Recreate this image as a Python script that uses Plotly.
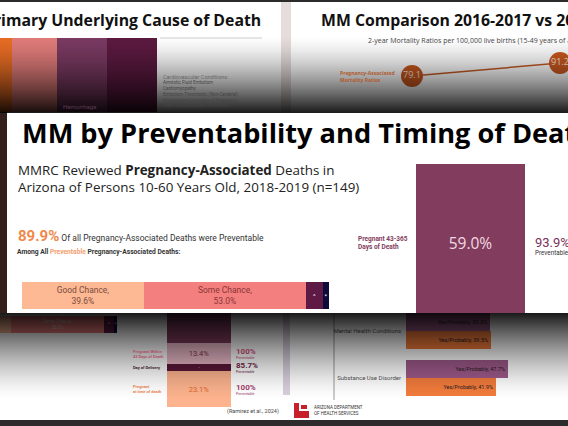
import plotly.graph_objects as go
import numpy as np

W, H = 568, 426
def X(px): return px / W
def Y(py): return 1 - py / H

FONT = "Open Sans"
SMALL = "Roboto"

# ---------------- data ----------------
chance_labels = ["Good Chance", "Some Chance", "Unable to Determine", "No Chance"]
chance_values = [39.6, 53.0, 5.5, 1.9]
chance_marks = ["", "", "^", "*"]
chance_colors = ["#fdb894", "#f47f7f", "#5e1a45", "#0e0b3a"]
chance_text_colors = ["#7a4c3c", "#8a3636", "#ffffff", "#ffffff"]

timing_labels = ["Pregnant<br>at time of death", "Day of Delivery",
                 "Pregnant Within<br>42 Days of Death", "Pregnant 43-365<br>Days of Death"]
timing_values = [23.1, 4.5, 13.4, 59.0]
timing_preventable = [100, 85.7, 100, 93.9]
timing_colors = ["#fcb38e", "#5a1838", "#eab9c8", "#823d5e"]
timing_text_colors = ["#e2632a", "#e8b0c0", "#8a3050", "#f3d9e3"]

conditions = ["Mental Health Conditions", "Substance Use Disorder"]
cond_pa = [39.3, 47.7]
cond_pr = [39.5, 41.9]

ratio_periods = ["2016-2017", "2018-2019"]
ratio_values = [79.1, 91.2]

cause_labels = ["Mental Health Conditions", "Injury", "Hemorrhage", "Cardiovascular Conditions"]
cause_values = [32.0, 14.5, 16.1, 16.1]
cause_colors = ["#e86d24", "#e07c7a", "#7a3a62", "#5c1a40"]

def bases(vals):
    return list(np.concatenate([[0], np.cumsum(vals)[:-1]]))

fig = go.Figure()

# main preventability stacked bar
fig.add_trace(go.Bar(
    orientation="h", y=["Preventable"] * len(chance_values), x=chance_values,
    base=bases(chance_values), marker=dict(color=chance_colors, line=dict(width=0)),
    text=[f"{l},<br>{v:.1f}%" if m == "" else m for l, v, m in zip(chance_labels, chance_values, chance_marks)],
    textposition="inside", insidetextanchor="middle",
    textfont=dict(family=SMALL, size=[8.5, 8.5, 6, 6], color=chance_text_colors),
    xaxis="x", yaxis="y", hoverinfo="skip"))

# main timing bar (only top segment visible)
fig.add_trace(go.Bar(
    x=["All"] * len(timing_values), y=timing_values, base=bases(timing_values),
    marker=dict(color=timing_colors, line=dict(width=0)),
    text=[f"{v:.1f}%" if i == len(timing_values) - 1 else "" for i, v in enumerate(timing_values)],
    textposition="inside", insidetextanchor="middle",
    textfont=dict(family=FONT, size=15.5, color=timing_text_colors),
    xaxis="x2", yaxis="y2", hoverinfo="skip"))

# background slide: timing bar
fig.add_trace(go.Bar(
    x=["All"] * len(timing_values), y=timing_values, base=bases(timing_values),
    marker=dict(color=timing_colors, line=dict(width=0)),
    text=[f"{v:.1f}%" if i < len(timing_values) - 1 else "" for i, v in enumerate(timing_values)],
    textposition="inside", insidetextanchor="middle",
    textfont=dict(family=SMALL, size=7.5, color=timing_text_colors),
    xaxis="x3", yaxis="y3", hoverinfo="skip"))

# background slide: preventability bar
fig.add_trace(go.Bar(
    orientation="h", y=["Preventable"] * len(chance_values), x=chance_values,
    base=bases(chance_values), marker=dict(color=chance_colors, line=dict(width=0)),
    text=[f"{l},<br>{v:.1f}%" if m == "" else m for l, v, m in zip(chance_labels, chance_values, chance_marks)],
    textposition="inside", insidetextanchor="middle",
    textfont=dict(family=SMALL, size=4.5, color="#f0d0d0"),
    xaxis="x4", yaxis="y4", hoverinfo="skip"))

# background slide: conditions grouped bars
fig.add_trace(go.Bar(
    orientation="h", y=conditions, x=cond_pa, width=0.38, offset=-0.38,
    marker=dict(color="#9e5a8a", line=dict(width=0)),
    texttemplate="Yes/Probably, %{x}%", textposition="inside", insidetextanchor="end",
    textfont=dict(family=SMALL, size=5.5, color="#2a1a22"),
    xaxis="x5", yaxis="y5", hoverinfo="skip"))
fig.add_trace(go.Bar(
    orientation="h", y=conditions, x=cond_pr, width=0.38, offset=0.0,
    marker=dict(color="#f27c3c", line=dict(width=0)),
    texttemplate="Yes/Probably, %{x}%", textposition="inside", insidetextanchor="end",
    textfont=dict(family=SMALL, size=5.5, color="#2a1a22"),
    xaxis="x5", yaxis="y5", hoverinfo="skip"))

# background slide: ratio comparison
fig.add_trace(go.Scatter(
    x=ratio_periods, y=ratio_values, mode="lines+markers+text",
    line=dict(color="#c45a24", width=1.5),
    marker=dict(size=22, color="#c8581f"),
    text=[f"{v}" for v in ratio_values], textposition="middle center",
    textfont=dict(family=FONT, size=9, color="#fbe3d6"),
    cliponaxis=False, xaxis="x6", yaxis="y6", hoverinfo="skip"))

# background slide: cause columns
fig.add_trace(go.Bar(
    orientation="h", y=["Cause"] * len(cause_values), x=cause_values,
    base=bases(cause_values), marker=dict(color=cause_colors, line=dict(width=0)),
    xaxis="x7", yaxis="y7", hoverinfo="skip"))

hid = dict(visible=False, showgrid=False, zeroline=False)
tot = float(np.sum(timing_values))
fig.update_layout(
    width=W, height=H, autosize=False, margin=dict(l=0, r=0, t=0, b=0),
    paper_bgcolor="white", plot_bgcolor="rgba(0,0,0,0)",
    barmode="overlay", bargap=0, showlegend=False,
    font=dict(family=FONT),
    xaxis=dict(domain=[X(22), X(329)], range=[0, 100], anchor="y", **hid),
    yaxis=dict(domain=[Y(309), Y(282)], anchor="x", **hid),
    xaxis2=dict(domain=[X(416), X(525)], range=[-0.5, 0.5], anchor="y2", **hid),
    yaxis2=dict(domain=[Y(313), Y(164)], range=[tot - 55.6, tot], anchor="x2", **hid),
    xaxis3=dict(domain=[X(167), X(231)], range=[-0.5, 0.5], anchor="y3", **hid),
    yaxis3=dict(domain=[Y(407), Y(313)], range=[0, 60.3], anchor="x3", **hid),
    xaxis4=dict(domain=[X(0), X(117)], range=[33.5, 100], anchor="y4", **hid),
    yaxis4=dict(domain=[Y(333), Y(316)], anchor="x4", **hid),
    xaxis5=dict(domain=[X(406), 1], range=[0, 75.7], anchor="y5", **hid),
    yaxis5=dict(domain=[Y(405), Y(313)], range=[1.574, -0.383], anchor="x5",
                showgrid=False, zeroline=False, showline=False, ticks="",
                tickfont=dict(family=SMALL, size=6, color="#555"), ticklabelstandoff=4),
    xaxis6=dict(domain=[X(340.8), 1], range=[-0.481, 1.054], anchor="y6", **hid),
    yaxis6=dict(domain=[Y(100), Y(45)], range=[56.75, 108.0], anchor="x6", **hid),
    xaxis7=dict(domain=[0, X(157)], range=[28.1, float(np.sum(cause_values))], anchor="y7", **hid),
    yaxis7=dict(domain=[Y(112), Y(38)], anchor="x7", **hid),
)

shapes = []
def rect(x0, y0, x1, y1, color, layer="below", opacity=1.0):
    shapes.append(dict(type="rect", xref="paper", yref="paper", x0=X(x0), x1=X(x1),
                       y0=Y(y1), y1=Y(y0), fillcolor=color, line=dict(width=0),
                       layer=layer, opacity=opacity))

rect(0, 0, W, 2, "#2b2b2b")
rect(281, 2, 291, 113, "#e6dcdc")
rect(0, 112, 7, 313, "#33201b")
rect(7, 112, W, 313, "#ffffff")
rect(283, 313, 290, 395, "#d8d0dc")
rect(0, 420, W, H, "#2b2b2b")
shapes.append(dict(type="line", xref="paper", yref="paper", x0=X(160), x1=X(262), y0=Y(38), y1=Y(38),
                   line=dict(color="#cccccc", width=1), layer="below"))
shapes.append(dict(type="line", xref="paper", yref="paper", x0=X(334), x1=X(334), y0=Y(400), y1=Y(313),
                   line=dict(color="#999999", width=1), layer="below"))
# logo
rect(294, 403, 309, 418, "#c8202a")
rect(299, 403, 309, 411, "#ffffff")
rect(301, 405, 307, 409, "#c8202a")

# shadow overlays
for py in range(35, 113):
    t = (py + 0.5 - 35) / 78
    rect(0, py, W, py + 1, "#000000", layer="above", opacity=min(0.9, 0.9 * t ** 1.5))
for py in range(313, 400):
    t = (400 - (py + 0.5)) / 87
    rect(0, py, W, py + 1, "#000000", layer="above", opacity=min(0.9, 0.9 * t ** 1.5))

ann = []
def text(x, y, s, size, color="#000", family=FONT, xanchor="left", **kw):
    ann.append(dict(x=X(x), y=Y(y), xref="paper", yref="paper", text=s, showarrow=False,
                    xanchor=xanchor, yanchor="middle", align="left" if xanchor == "left" else "right",
                    font=dict(family=family, size=size, color=color), **kw))

# top slides
text(263, 20, "<b>Primary Underlying Cause of Death</b>", 15.8, "#111", xanchor="right")
text(319, 20, "<b>MM Comparison 2016-2017 vs 2018-2019</b>", 15.8, "#111")
text(366, 41, "2-year Mortality Ratios per 100,000 live births (15-49 years of age)", 7, "#444")
text(338, 76, "<b>Pregnancy-Associated<br>Mortality Ratios</b>", 5, "#b05a30")
text(161, 77, "Cardiovascular Conditions:", 5.5, "#666", family=SMALL)
text(161, 94, "Amniotic Fluid Embolism<br>Cardiomyopathy<br>Embolism-Thrombotic (Non-Cerebral)<br>Hypertensive Disorders of Pregnancy<br>Other Cardiovascular Conditions",
     4.5, "#444", family=SMALL)
text(61, 106, "Hemorrhage", 6, "#5a3a50", family=SMALL)

# main slide
text(20, 133, "<b>MM by Preventability and Timing of Death</b>", 27.2, "#000")
text(16, 178, "MMRC Reviewed <b>Pregnancy-Associated</b> Deaths in<br>Arizona of Persons 10-60 Years Old, 2018-2019 (n=149)", 13.4, "#222")
text(16, 236, "<span style='font-size:15px;color:#f0884a'><b>89.9%</b></span> Of all Pregnancy-Associated Deaths were Preventable",
     8.5, "#333", family=SMALL)
text(15, 252, "<b>Among All <span style='color:#f4a070'>Preventable</span> Pregnancy-Associated Deaths:</b>", 6.7, "#333", family=SMALL)

last = len(timing_values) - 1
mids = [b + v / 2 for b, v in zip(bases(timing_values), timing_values)]
ann.append(dict(xref="x2 domain", yref="y2", x=-0.55, y=mids[last], xanchor="left", yanchor="middle",
                align="left", showarrow=False, text=f"<b>{timing_labels[last]}</b>",
                font=dict(family=SMALL, size=6.5, color="#823d5e")))
ann.append(dict(xref="x2 domain", yref="y2", x=1.075, y=mids[last], xanchor="left", yanchor="middle",
                align="left", showarrow=False, yshift=-3,
                text=f"<span style='font-size:13px;color:#7a2f55'>{timing_preventable[last]}%</span><br>Preventable",
                font=dict(family=SMALL, size=6.3, color="#333")))

# bottom-left slide labels
lab_colors = ["#e8804a", "#3a1a2a", "#b0506a"]
val_colors = ["#9a3a6a", "#5a1838", "#8a3050"]
for i in range(last):
    ann.append(dict(xref="x3 domain", yref="y3", x=-0.5625, y=mids[i], xanchor="left", yanchor="middle",
                    align="left", showarrow=False, text=f"<b>{timing_labels[i]}</b>",
                    font=dict(family=SMALL, size=4, color=lab_colors[i])))
    ann.append(dict(xref="x3 domain", yref="y3", x=1.047, y=mids[i], xanchor="left", yanchor="middle",
                    align="left", showarrow=False,
                    text=f"<b><span style='font-size:8px'>{timing_preventable[i]:g}%</span></b><br>Preventable",
                    font=dict(family=SMALL, size=3.5, color=val_colors[i])))

text(281, 411, "(Ramirez et al., 2024)", 5.5, "#444", xanchor="right", family=SMALL)
text(312, 410, "ARIZONA DEPARTMENT<br>OF HEALTH SERVICES", 4.5, "#333", family=SMALL)

fig.update_layout(shapes=shapes, annotations=ann)
fig.write_html("out.html", config={"displayModeBar": False},
               post_script="document.body.style.margin='0';document.body.style.overflow='hidden';")
